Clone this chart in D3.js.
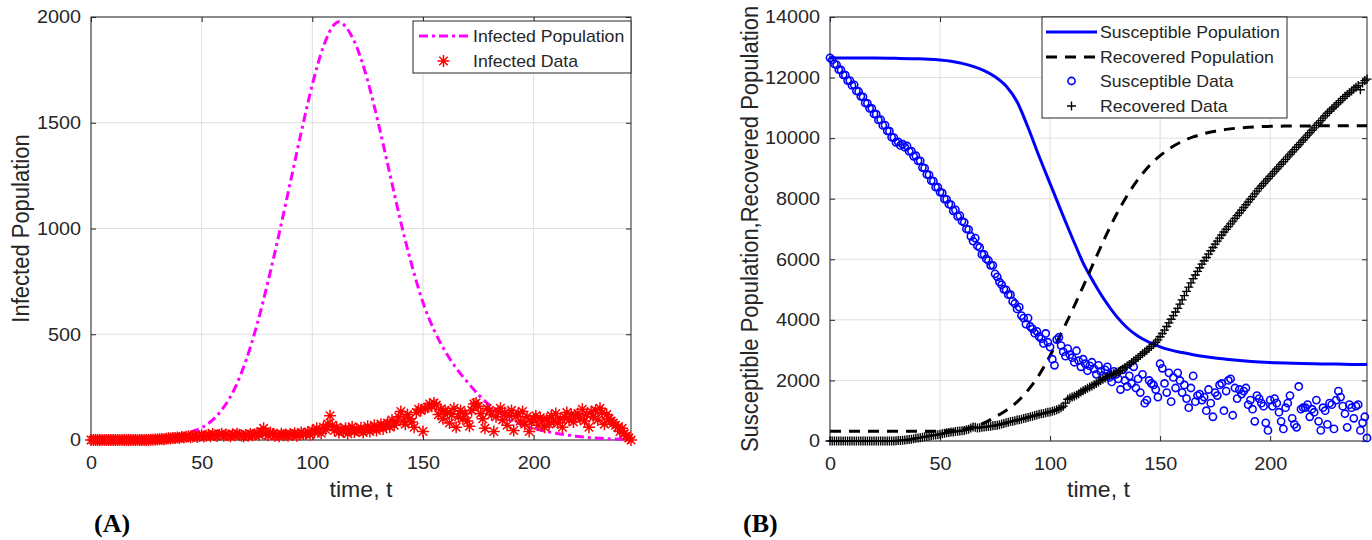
<!DOCTYPE html>
<html>
<head>
  <meta charset="utf-8">
  <title>Infected / Susceptible / Recovered fit</title>
  <script src="https://d3js.org/d3.v7.min.js"></script>
  <style>
    body { margin: 0; background: #fff; }
    text { font-family: "Liberation Sans", Arial, sans-serif; fill: #262626; }
  </style>
</head>
<body>
<div id="chart"></div>
<script>
  // ---- data ----
  const xTicks = [0, 50, 100, 150, 200];
  const yTicksA = [0, 500, 1000, 1500, 2000];
  const yTicksB = [0, 2000, 4000, 6000, 8000, 10000, 12000, 14000];

  // model curves sampled at these days
  const modelDays = [0, 10, 20, 30, 40, 45, 50, 55, 60, 65, 70, 75, 80, 85, 90, 95, 100, 105, 110, 112,
    115, 120, 125, 130, 135, 140, 145, 150, 155, 160, 165, 170, 175, 180, 185, 190, 195, 200, 210, 220, 230, 240, 244];

  const infectedModel = [2, 3, 5, 10, 24, 38, 58, 95, 155, 245, 375, 545, 750, 975, 1215, 1455, 1680, 1860, 1965, 1978,
    1955, 1860, 1700, 1490, 1260, 1030, 825, 650, 520, 420, 340, 275, 215, 165, 125, 95, 72, 55, 32, 17, 8, 3, 2];

  const susceptibleModel = [12650, 12648, 12643, 12635, 12620, 12605, 12580, 12540, 12470, 12370, 12230, 12030, 11720, 11200, 10350, 9400, 8500, 7600, 6720, 6380,
    5880, 5220, 4630, 4130, 3740, 3460, 3260, 3110, 3000, 2920, 2850, 2790, 2740, 2700, 2665, 2635, 2610, 2590, 2565, 2550, 2540, 2530, 2530];

  const recoveredModel = [320, 320, 320, 320, 320, 320, 325, 345, 390, 465, 600, 790, 1010, 1290, 1680, 2180, 2820, 3550, 4300, 4620,
    5100, 5920, 6720, 7460, 8100, 8640, 9080, 9420, 9690, 9890, 10040, 10150, 10230, 10290, 10330, 10360, 10380, 10390, 10400, 10405, 10410, 10410, 10410];

  // daily observations, day 0 .. 244
  const infectedData = [
    0, 0, 0, 0, 0, 0, 0, 0, 0, 0,
    0, 0, 0, 0, 0, 0, 0, 0, 0, 0,
    0, 0, 0, 0, 0, 0, 0, 1, 1, 2,
    2, 3, 5, 4, 6, 8, 7, 10, 9, 12,
    10, 14, 12, 15, 18, 13, 16, 20, 14, 18,
    22, 17, 20, 25, 18, 28, 22, 19, 24, 30,
    20, 26, 23, 18, 27, 22, 30, 25, 20, 18,
    24, 20, 28, 22, 26, 32, 25, 38, 55, 30,
    22, 35, 28, 20, 25, 18, 30, 22, 26, 20,
    28, 24, 32, 20, 26, 35, 28, 30, 38, 25,
    45, 38, 55, 40, 32, 60, 50, 75, 115, 70,
    45, 60, 35, 50, 40, 55, 30, 48, 62, 38,
    50, 42, 58, 35, 48, 65, 40, 55, 70, 45,
    60, 75, 52, 68, 80, 62, 95, 70, 85, 110,
    135, 90, 75, 120, 100, 85, 60, 130, 145, 140,
    40, 150, 155, 170, 160, 175, 165, 120, 145, 100,
    140, 130, 80, 120, 150, 60, 110, 140, 100, 125,
    90, 65, 140, 170, 175, 160, 125, 100, 55, 150,
    140, 120, 40, 110, 135, 150, 95, 130, 70, 115,
    140, 45, 110, 125, 90, 135, 75, 110, 40, 85,
    100, 115, 70, 105, 90, 60, 100, 75, 115, 90,
    125, 80, 100, 60, 110, 130, 95, 120, 85, 115,
    125, 100, 145, 90, 120, 60, 135, 110, 140, 95,
    150, 130, 75, 120, 100, 90, 80, 70, 60, 40,
    55, 30, 20, 10, 0
  ];

  const susceptibleData = [
    12650, 12580, 12450, 12420, 12260, 12250, 12090, 12080, 11900, 11900,
    11740, 11760, 11560, 11540, 11380, 11360, 11160, 11150, 10980, 10980,
    10800, 10790, 10600, 10610, 10420, 10430, 10240, 10230, 10030, 10020,
    9860, 9880, 9760, 9800, 9700, 9740, 9560, 9570, 9400, 9420,
    9250, 9250, 9030, 9010, 8800, 8790, 8600, 8580, 8380, 8380,
    8220, 8190, 7990, 7980, 7820, 7800, 7600, 7630, 7420, 7440,
    7260, 7220, 7000, 6980, 6760, 6600, 6700, 6440, 6390, 6160,
    6160, 6010, 5960, 5800, 5800, 5520, 5420, 5250, 5160, 5010,
    4990, 4830, 4830, 4610, 4540, 4360, 4420, 4140, 4060, 3860,
    4060, 3780, 3700, 3560, 3620, 3450, 3380, 3220, 3550, 3260,
    3100, 2700, 2500, 3350, 3420, 3150, 2950, 2800, 3050, 2850,
    2750, 2600, 2980, 2650, 2450, 2700, 2550, 2320, 2480, 2600,
    2380, 2200, 2500, 2300, 2150, 2350, 2450, 2100, 1950, 2300,
    2200, 2050, 1700, 2350, 2000, 1800, 2150, 1900, 2450, 1750,
    2050, 1600, 2200, 1250, 1350, 2000, 1900, 1850, 1700, 1450,
    2550, 2400, 1900, 1600, 2250, 1300, 2100, 1750, 2250, 2000,
    1600, 1850, 1400, 1100, 1750, 2150, 1300, 1500, 1550, 1350,
    1450, 1000, 1700, 1250, 800, 1600, 1500, 1850, 1900, 1000,
    1650, 2000, 2050, 850, 1750, 1400, 1700, 1550, 1650, 1750,
    1200, 1350, 1050, 650, 1500, 1400, 1250, 1150, 600, 350,
    1350, 1150, 1400, 1250, 950, 650, 400, 1100, 1250, 1500,
    750, 550, 450, 1800, 1050, 1100, 1100, 1200, 800, 1050,
    950, 1350, 650, 350, 1100, 1000, 550, 1250, 1200, 400,
    1350, 1650, 1450, 1150, 900, 450, 1200, 1100, 750, 1150,
    1200, 350, 600, 800, 100
  ];

  const recoveredData = [
    0, 0, 0, 0, 0, 0, 0, 0, 0, 0,
    0, 0, 0, 0, 0, 0, 0, 0, 0, 0,
    0, 0, 0, 0, 0, 0, 0, 0, 0, 0,
    10, 15, 20, 25, 30, 40, 50, 60, 75, 90,
    100, 110, 120, 140, 150, 160, 175, 190, 200, 210,
    225, 240, 260, 270, 280, 295, 300, 310, 320, 330,
    340, 350, 370, 390, 430, 460, 450, 430, 440, 455,
    460, 470, 480, 490, 500, 510, 520, 540, 560, 580,
    600, 620, 640, 650, 670, 690, 700, 720, 740, 760,
    780, 800, 820, 840, 860, 880, 900, 910, 930, 950,
    960, 980, 1000, 1030, 1060, 1100, 1150, 1250, 1380, 1420,
    1450, 1480, 1520, 1560, 1620, 1660, 1700, 1740, 1780, 1820,
    1860, 1900, 1950, 2000, 2040, 2080, 2120, 2170, 2200, 2230,
    2250, 2290, 2330, 2380, 2430, 2480, 2530, 2590, 2640, 2700,
    2760, 2820, 2880, 2940, 3000, 3060, 3120, 3190, 3260, 3340,
    3440, 3550, 3660, 3780, 3900, 4020, 4140, 4260, 4380, 4520,
    4660, 4800, 4940, 5080, 5220, 5360, 5480, 5600, 5720, 5840,
    5950, 6060, 6170, 6280, 6390, 6500, 6600, 6700, 6800, 6900,
    6990, 7080, 7170, 7260, 7350, 7440, 7530, 7620, 7710, 7800,
    7890, 7980, 8070, 8160, 8250, 8340, 8420, 8500, 8580, 8660,
    8740, 8820, 8900, 8980, 9060, 9140, 9220, 9300, 9380, 9460,
    9540, 9620, 9700, 9780, 9860, 9940, 10020, 10100, 10180, 10260,
    10340, 10420, 10500, 10580, 10660, 10740, 10820, 10890, 10960, 11030,
    11100, 11170, 11240, 11310, 11380, 11440, 11500, 11560, 11620, 11680,
    11740, 11600, 11820, 11900, 11950
  ];

  const days = infectedData.map((d, i) => i);

  // ---- drawing ----
  const svg = d3.select("#chart").append("svg")
    .attr("width", 1372)
    .attr("height", 540);

  const STRETCH = "scale(1.1,1)";

  function asteriskPath(r) {
    const d = r * 0.707;
    return `M${-r},0H${r}M0,${-r}V${r}M${-d},${-d}L${d},${d}M${-d},${d}L${d},${-d}`;
  }
  function plusPath(r) {
    return `M${-r},0H${r}M0,${-r}V${r}`;
  }

  function makeAxes(box, ymax, yTicks, ylabel, ylabelX, tag, tagX) {
    const x = d3.scaleLinear().domain([0, 244]).range([box.left, box.right]);
    const y = d3.scaleLinear().domain([0, ymax]).range([box.bottom, box.top]);
    const g = svg.append("g");

    // grid
    g.append("g").selectAll("line").data(xTicks).join("line")
      .attr("x1", d => x(d)).attr("x2", d => x(d))
      .attr("y1", box.top).attr("y2", box.bottom)
      .attr("stroke", "#dedede");
    g.append("g").selectAll("line").data(yTicks).join("line")
      .attr("x1", box.left).attr("x2", box.right)
      .attr("y1", d => y(d)).attr("y2", d => y(d))
      .attr("stroke", "#dedede");

    // axes (inward ticks on all four sides)
    const fmt = d3.format("d");
    const axes = [
      g.append("g").attr("transform", `translate(0,${box.bottom})`)
        .call(d3.axisBottom(x).tickValues(xTicks).tickFormat(fmt).tickSizeInner(-5).tickSizeOuter(0).tickPadding(16.5)),
      g.append("g").attr("transform", `translate(${box.left},0)`)
        .call(d3.axisLeft(y).tickValues(yTicks).tickFormat(fmt).tickSizeInner(-5).tickSizeOuter(0).tickPadding(9)),
      g.append("g").attr("transform", `translate(0,${box.top})`)
        .call(d3.axisTop(x).tickValues(xTicks).tickSizeInner(-5).tickSizeOuter(0).tickFormat("")),
      g.append("g").attr("transform", `translate(${box.right},0)`)
        .call(d3.axisRight(y).tickValues(yTicks).tickSizeInner(-5).tickSizeOuter(0).tickFormat(""))
    ];
    axes.forEach(a => {
      a.attr("font-family", null).attr("font-size", null).attr("color", "#262626");
      a.select(".domain").remove();
      a.selectAll("text").style("font-size", "18px").attr("transform", STRETCH);
    });

    g.append("rect")
      .attr("x", box.left).attr("y", box.top)
      .attr("width", box.right - box.left).attr("height", box.bottom - box.top)
      .attr("fill", "none").attr("stroke", "#262626").attr("stroke-width", 1);

    // labels
    g.append("text")
      .attr("transform", `translate(${(box.left + box.right) / 2},497) scale(1.05,1)`)
      .attr("text-anchor", "middle").style("font-size", "22px")
      .text("time, t");
    g.append("text")
      .attr("transform", `translate(${ylabelX},${(box.top + box.bottom) / 2}) scale(1.05,1) rotate(-90)`)
      .attr("text-anchor", "middle").style("font-size", "22px")
      .text(ylabel);
    g.append("text")
      .attr("transform", `translate(${tagX},532)`)
      .style("font-family", "'Liberation Serif', 'Times New Roman', serif")
      .style("font-weight", "bold").style("font-size", "26px").style("fill", "#000")
      .text(tag);

    return { x, y, g };
  }

  function legend(g, box, items) {
    g.append("rect")
      .attr("x", box.x).attr("y", box.y).attr("width", box.w).attr("height", box.h)
      .attr("fill", "#fff").attr("stroke", "#262626").attr("stroke-width", 1);
    items.forEach((it, i) => {
      const cy = box.rowY[i];
      if (it.type === "line") {
        g.append("line")
          .attr("x1", box.lineX[0]).attr("x2", box.lineX[1]).attr("y1", cy).attr("y2", cy)
          .attr("stroke", it.color).attr("stroke-width", 3)
          .attr("stroke-dasharray", it.dash || null);
      } else {
        it.draw(g.append("g").attr("transform", `translate(${(box.lineX[0] + box.lineX[1]) / 2},${cy})`));
      }
      g.append("text")
        .attr("transform", `translate(${box.textX},${cy}) scale(1.04,1)`)
        .attr("dy", "0.35em").style("font-size", "17px")
        .text(it.label);
    });
  }

  // ---- panel A ----
  const A = makeAxes({ left: 91, right: 631, top: 17, bottom: 440 }, 2000, yTicksA,
    "Infected Population", 29, "(A)", 94);

  const DASHDOT = "9,4,3,4";
  const DASHED = "11,8";

  A.g.append("path")
    .datum(modelDays.map((d, i) => [d, infectedModel[i]]))
    .attr("fill", "none").attr("stroke", "#ff00ff").attr("stroke-width", 3)
    .attr("stroke-dasharray", DASHDOT)
    .attr("d", d3.line().x(d => A.x(d[0])).y(d => A.y(d[1])).curve(d3.curveMonotoneX));

  const star = s => s.attr("d", asteriskPath(6)).attr("fill", "none").attr("stroke", "#ff0000").attr("stroke-width", 1.5);

  A.g.append("g").selectAll("path").data(days).join("path")
    .attr("transform", d => `translate(${A.x(d)},${A.y(infectedData[d])})`)
    .call(star);

  legend(A.g, { x: 413, y: 21, w: 218, h: 52, rowY: [36, 61], lineX: [419, 468], textX: 473 }, [
    { type: "line", color: "#ff00ff", dash: DASHDOT, label: "Infected Population" },
    { type: "marker", label: "Infected Data", draw: s => s.append("path").call(star) }
  ]);

  // ---- panel B ----
  const B = makeAxes({ left: 830, right: 1367, top: 17, bottom: 441 }, 14000, yTicksB,
    "Susceptible Population,Recovered Population", 758, "(B)", 743);

  const modelLine = vals => d3.line()
    .x((d, i) => B.x(modelDays[i])).y(d => B.y(d)).curve(d3.curveMonotoneX)(vals);

  B.g.append("path")
    .attr("d", modelLine(susceptibleModel))
    .attr("fill", "none").attr("stroke", "#0000ff").attr("stroke-width", 3);

  B.g.append("path")
    .attr("d", modelLine(recoveredModel))
    .attr("fill", "none").attr("stroke", "#000").attr("stroke-width", 3)
    .attr("stroke-dasharray", DASHED);

  const ring = s => s.attr("r", 3.6).attr("fill", "none").attr("stroke", "#0000ff").attr("stroke-width", 1.6);
  const cross = s => s.attr("d", plusPath(4.5)).attr("fill", "none").attr("stroke", "#000").attr("stroke-width", 1.4);

  B.g.append("g").selectAll("circle").data(days).join("circle")
    .attr("cx", d => B.x(d)).attr("cy", d => B.y(susceptibleData[d]))
    .call(ring);

  B.g.append("g").selectAll("path").data(days).join("path")
    .attr("transform", d => `translate(${B.x(d)},${B.y(recoveredData[d])})`)
    .call(cross);

  legend(B.g, { x: 1042, y: 17, w: 245, h: 101, rowY: [32, 57, 81, 106], lineX: [1046, 1097], textX: 1100 }, [
    { type: "line", color: "#0000ff", label: "Susceptible Population" },
    { type: "line", color: "#000", dash: DASHED, label: "Recovered Population" },
    { type: "marker", label: "Susceptible Data", draw: s => s.append("circle").call(ring) },
    { type: "marker", label: "Recovered Data", draw: s => s.append("path").call(cross) }
  ]);
</script>
</body>
</html>
